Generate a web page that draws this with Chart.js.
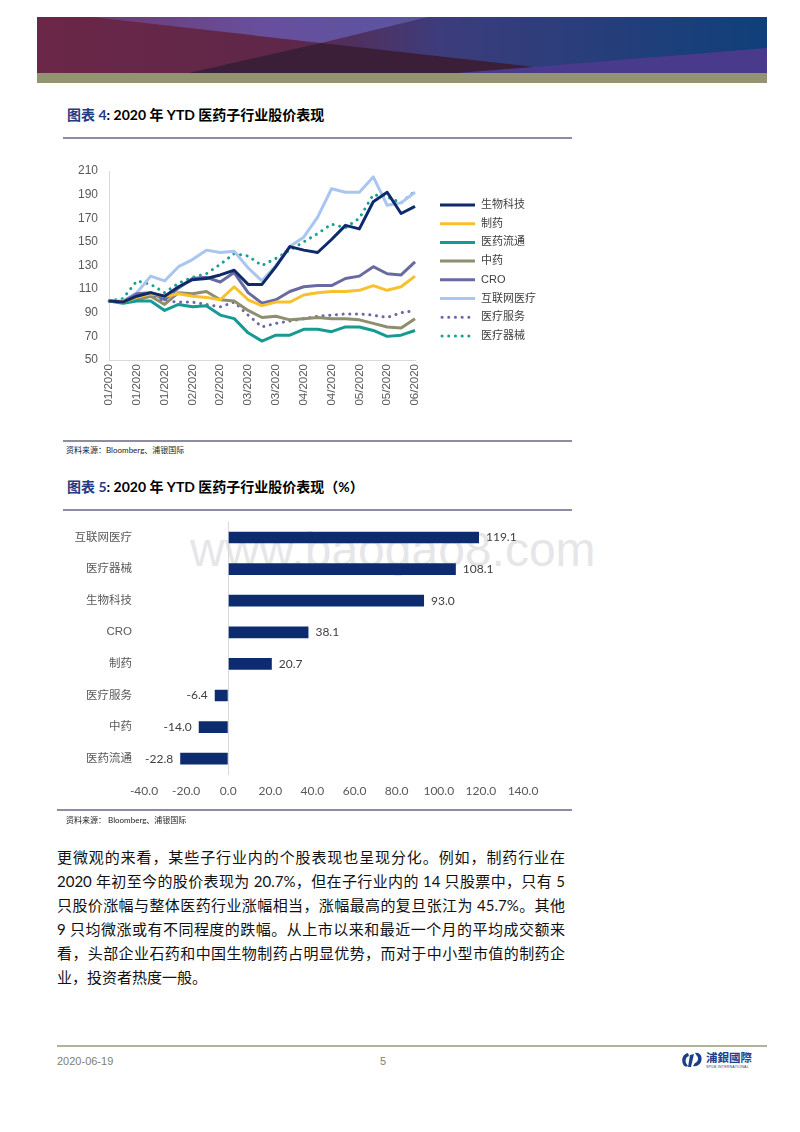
<!DOCTYPE html>
<html lang="zh-CN">
<head>
<meta charset="utf-8">
<title>2020 年 YTD 医药子行业股价表现</title>
<script src="https://cdn.jsdelivr.net/npm/chart.js@4.4.0/dist/chart.umd.min.js"></script>
<style>
  html, body { margin: 0; padding: 0; background: #fff; }
  body { width: 800px; height: 1132px; position: relative; overflow: hidden;
         font-family: "Liberation Sans", "Noto Sans CJK SC", sans-serif; }
  .abs { position: absolute; }
  .title { left: 67px; height: 20px; line-height: 20px; font-size: 14px; font-weight: 700; color: #000;
           font-family: "Lato", "Noto Sans CJK SC", sans-serif; white-space: nowrap; }
  .title .no { color: #243a82; }
  .rule { left: 63px; width: 509px; height: 1.5px; background: #8d8ca3; }
  .src { left: 66px; font-size: 8px; line-height: 10px; color: #222; font-family: "Lato", "Noto Sans CJK SC", sans-serif; }
  .para { left: 57px; top: 845px; }
  .para div { width: 508px; height: 24px; line-height: 24px; font-size: 15px; color: #111;
              text-align: justify; text-align-last: justify; white-space: nowrap;
              font-family: "Lato", "Noto Sans CJK SC", sans-serif; }
  .para div.last { text-align-last: left; }
  .watermark { left: 190px; top: 522px; font-size: 48px; color: rgba(205, 205, 212, 0.5);
               font-family: "Liberation Sans", sans-serif; white-space: nowrap; }
  .foot { top: 1055px; font-size: 11px; color: #7f7f6c; font-family: "Liberation Sans", sans-serif; }
</style>
</head>
<body>

<!-- header banner -->
<svg class="abs" style="left:37px;top:17px" width="730" height="66">
  <defs>
    <linearGradient id="bg" x1="0" x2="1">
      <stop offset="0" stop-color="#6b2747"/>
      <stop offset="0.35" stop-color="#5e2749"/>
      <stop offset="0.55" stop-color="#3d3c7c"/>
      <stop offset="1" stop-color="#0f4079"/>
    </linearGradient>
    <linearGradient id="lp" x1="0" x2="1">
      <stop offset="0" stop-color="#6e3a72"/>
      <stop offset="0.5" stop-color="#684f9c"/>
      <stop offset="1" stop-color="#5a55a0"/>
    </linearGradient>
  </defs>
  <rect width="730" height="56" fill="url(#bg)"/>
  <polygon points="55,0 391,0 284,26" fill="url(#lp)"/>
  <polygon points="152,56 550,56 284,26" fill="#3b1e37"/>
  <polygon points="420,56 730,31 730,56" fill="#4a3a8c"/>
  <rect y="56" width="730" height="10" fill="#939371"/>
</svg>

<!-- figure 4 -->
<div class="abs title" style="top:105px"><span class="no">图表 4</span>: 2020 年 YTD 医药子行业股价表现</div>
<div class="abs rule" style="top:137px"></div>
<div class="abs" style="left:60px;top:155px;width:500px;height:275px"><canvas id="lineChart"></canvas></div>
<div class="abs rule" style="top:440px"></div>
<div class="abs src" style="top:445px">资料来源：Bloomberg、浦银国际</div>

<!-- figure 5 -->
<div class="abs title" style="top:477px"><span class="no">图表 5</span>: 2020 年 YTD 医药子行业股价表现（%）</div>
<div class="abs rule" style="top:509px"></div>
<div class="abs watermark">www.baogao8.com</div>
<div class="abs" style="left:40px;top:510px;width:520px;height:300px"><canvas id="barChart"></canvas></div>
<div class="abs rule" style="top:809px;left:57px;width:515px"></div>
<div class="abs src" style="top:815px">资料来源：&nbsp;Bloomberg、浦银国际</div>

<!-- body text -->
<div class="abs para">
  <div>更微观的来看，某些子行业内的个股表现也呈现分化。例如，制药行业在</div>
  <div>2020 年初至今的股价表现为 20.7%，但在子行业内的 14 只股票中，只有 5</div>
  <div>只股价涨幅与整体医药行业涨幅相当，涨幅最高的复旦张江为 45.7%。其他</div>
  <div>9 只均微涨或有不同程度的跌幅。从上市以来和最近一个月的平均成交额来</div>
  <div>看，头部企业石药和中国生物制药占明显优势，而对于中小型市值的制药企</div>
  <div class="last">业，投资者热度一般。</div>
</div>

<!-- footer -->
<div class="abs" style="left:57px;top:1045px;width:710px;height:1.5px;background:#b3b39c"></div>
<div class="abs foot" style="left:57px">2020-06-19</div>
<div class="abs foot" style="left:380px">5</div>
<svg class="abs" style="left:681px;top:1051px" width="22" height="18">
  <path d="M7 2 C2 3 0 8 2 13 C3 16 6 16 7 15 L5 12 C4 9 5 6 8 5 Z" fill="#1d3f8a"/>
  <path d="M9 4 L13 3 L10 16 L7 16 Z" fill="#1d3f8a"/>
  <path d="M14 2 C19 1 22 6 20 11 C18 15 14 16 12 15 L14 12 C17 11 18 7 16 5 Z" fill="#1d3f8a"/>
</svg>
<div class="abs" style="left:706px;top:1051px;font-size:11.5px;font-weight:700;color:#1d3f8a;font-family:'Noto Sans CJK TC',sans-serif;line-height:13px">浦銀國際</div>
<div class="abs" style="left:706px;top:1065px;font-size:3.6px;color:#1d3f8a;line-height:5px;letter-spacing:0.2px">SPDB INTERNATIONAL</div>

<script>
// ---- figure 4 data: weekly index, start of 2020 = 100 ----
const weeks = ['01/2020', '01/2020', '01/2020', '01/2020', '01/2020', '02/2020', '02/2020', '02/2020',
               '02/2020', '03/2020', '03/2020', '03/2020', '03/2020', '04/2020', '04/2020', '04/2020',
               '04/2020', '05/2020', '05/2020', '05/2020', '05/2020', '05/2020', '06/2020'];

const biotech   = [100, 99, 104, 107, 104, 112, 118, 119, 122, 126, 114, 114, 129, 146, 143, 141, 152, 164, 161, 184, 192, 174, 180];
const pharma    = [100, 99, 103, 106, 104, 106, 104, 103, 101, 112, 101, 96, 99, 99, 105, 107, 108, 108, 109, 113, 109, 112, 121];
const distrib   = [100, 98, 100, 100, 92, 97, 95, 96, 88, 85, 73, 66, 71, 71, 76, 76, 74, 78, 78, 75, 70, 71, 75];
const tcm       = [100, 99, 101, 104, 97, 107, 106, 108, 101, 100, 92, 86, 87, 84, 85, 86, 85, 85, 84, 81, 78, 77, 85];
const cro       = [100, 99, 106, 107, 101, 111, 119, 120, 116, 124, 107, 98, 101, 108, 112, 113, 113, 119, 121, 129, 123, 122, 133];
const internet  = [100, 100, 107, 121, 117, 129, 135, 143, 141, 142, 128, 117, 130, 146, 154, 171, 195, 192, 192, 205, 181, 183, 192];
const services  = [100, 100, 105, 104, 100, 99, 99, 97, 95, 99, 88, 78, 81, 83, 85, 87, 88, 89, 89, 88, 86, 90, 92];
const devices   = [100, 102, 117, 114, 107, 115, 120, 123, 131, 140, 138, 130, 136, 143, 150, 157, 165, 162, 170, 190, 188, 183, 193];

// ---- figure 5 data: YTD return (%) ----
const barCats   = ['互联网医疗', '医疗器械', '生物科技', 'CRO', '制药', '医疗服务', '中药', '医药流通'];
const barValues = [119.1, 108.1, 93.0, 38.1, 20.7, -6.4, -14.0, -22.8];

const axisFont = { family: 'Liberation Sans', size: 11.5 };
const axisColor = '#595959';

function lineSet(label, data, color, dotted) {
    return {
        label: label,
        data: data,
        borderColor: color,
        backgroundColor: color,
        borderWidth: 3,
        borderDash: dotted ? [0.1, 6.6] : [],
        borderCapStyle: dotted ? 'round' : 'butt',
        borderJoinStyle: 'round',
        pointRadius: 0,
        tension: 0,
        fill: false,
        dotted: dotted
    };
}

// keep the plot area where layout.padding puts it (ignore label overhang)
function noOverhang(s) {
    s.paddingTop = 0;
    s.paddingBottom = 0;
}

// legend on the right, drawn from the datasets
const sideLegend = {
    id: 'sideLegend',
    afterDraw(chart) {
        const ctx = chart.ctx;
        ctx.save();
        ctx.font = '11px "Liberation Sans", "Noto Sans CJK SC"';
        ctx.textBaseline = 'middle';
        chart.data.datasets.forEach((ds, i) => {
            const y = 50 + i * 18.7;
            ctx.beginPath();
            ctx.strokeStyle = ds.borderColor;
            ctx.lineWidth = 3;
            if (ds.dotted) {
                ctx.setLineDash([0.1, 6.6]);
                ctx.lineCap = 'round';
                ctx.moveTo(382, y);
                ctx.lineTo(411, y);
            } else {
                ctx.setLineDash([]);
                ctx.lineCap = 'butt';
                ctx.moveTo(380, y);
                ctx.lineTo(415, y);
            }
            ctx.stroke();
            ctx.fillStyle = '#404040';
            ctx.fillText(ds.label, 421, y);
        });
        ctx.restore();
    }
};

new Chart(document.getElementById('lineChart'), {
    type: 'line',
    data: {
        labels: weeks,
        datasets: [
            lineSet('生物科技', biotech, '#0e2a6b', false),
            lineSet('制药', pharma, '#f8c12c', false),
            lineSet('医药流通', distrib, '#179a92', false),
            lineSet('中药', tcm, '#8f8e6e', false),
            lineSet('CRO', cro, '#6a6aa3', false),
            lineSet('互联网医疗', internet, '#a9c5f0', false),
            lineSet('医疗服务', services, '#6b68a8', true),
            lineSet('医疗器械', devices, '#1a9e96', true)
        ]
    },
    options: {
        responsive: true,
        maintainAspectRatio: false,
        animation: false,
        layout: { padding: { top: 16, right: 145, bottom: 0, left: 0 } },
        plugins: { legend: { display: false }, tooltip: { enabled: false } },
        scales: {
            x: {
                grid: { display: false, drawTicks: false },
                border: { color: '#d9d9d9', width: 1 },
                ticks: {
                    autoSkip: false, minRotation: 90, maxRotation: 90, padding: 4,
                    color: axisColor, font: axisFont,
                    callback: (v, i) => (i % 2 === 0 ? weeks[i] : '')
                },
                afterFit: s => { s.height = 70; }
            },
            y: {
                min: 50, max: 210,
                grid: { display: false, drawTicks: false },
                border: { color: '#d9d9d9', width: 1 },
                ticks: { stepSize: 20, padding: 11, color: axisColor, font: { family: 'Liberation Sans', size: 12 } },
                afterFit: s => { s.width = 49; noOverhang(s); }
            }
        }
    },
    plugins: [sideLegend]
});

// value labels at the end of each bar
const barLabels = {
    id: 'barLabels',
    afterDatasetsDraw(chart) {
        const ctx = chart.ctx;
        const meta = chart.getDatasetMeta(0);
        ctx.save();
        ctx.font = '12px Lato';
        ctx.fillStyle = '#404040';
        ctx.textBaseline = 'middle';
        meta.data.forEach((bar, i) => {
            const v = barValues[i];
            ctx.textAlign = v >= 0 ? 'left' : 'right';
            ctx.fillText(v.toFixed(1), v >= 0 ? bar.x + 7 : bar.x - 7, bar.y);
        });
        ctx.restore();
    }
};

new Chart(document.getElementById('barChart'), {
    type: 'bar',
    data: {
        labels: barCats,
        datasets: [{
            data: barValues,
            backgroundColor: '#0c2c6f',
            categoryPercentage: 1,
            barPercentage: 0.37
        }]
    },
    options: {
        indexAxis: 'y',
        responsive: true,
        maintainAspectRatio: false,
        animation: false,
        layout: { padding: { top: 11.7, right: 37, bottom: 0, left: 0 } },
        plugins: { legend: { display: false }, tooltip: { enabled: false } },
        scales: {
            x: {
                min: -40, max: 140,
                grid: {
                    drawTicks: false,
                    color: c => (c.tick && c.tick.value === 0 ? '#d9d9d9' : 'rgba(0,0,0,0)')
                },
                border: { display: false },
                ticks: { stepSize: 20, padding: 9, color: axisColor, font: { family: 'Lato', size: 12 },
                         callback: v => Number(v).toFixed(1) },
                afterFit: s => { s.height = 35.5; }
            },
            y: {
                grid: { display: false, drawTicks: false },
                border: { display: false },
                ticks: { padding: 12, color: axisColor, font: { family: '"Liberation Sans", "Noto Sans CJK SC"', size: 11.5 } },
                afterFit: s => { s.width = 104; noOverhang(s); }
            }
        }
    },
    plugins: [barLabels]
});
</script>
</body>
</html>
